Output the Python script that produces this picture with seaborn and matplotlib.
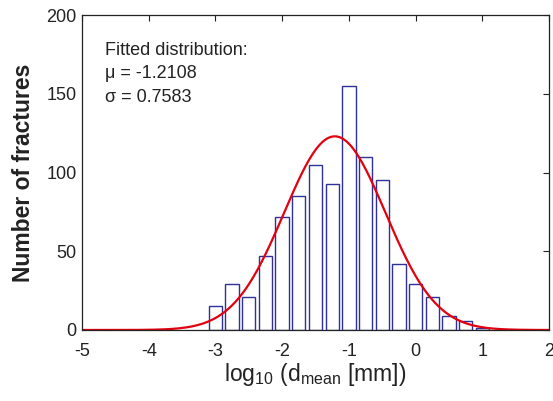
import numpy as np
import pandas as pd
import matplotlib
matplotlib.use("Agg")
import matplotlib.pyplot as plt
import seaborn as sns

# Data
bin_centers = [-3.0, -2.75, -2.5, -2.25, -2.0, -1.75, -1.5, -1.25, -1.0,
               -0.75, -0.5, -0.25, 0.0, 0.25, 0.5, 0.75, 1.0]
counts = [15, 29, 21, 47, 72, 85, 105, 93, 155, 110, 95, 42, 29, 21, 9, 6, 1]
mu = -1.2108
sigma = 0.7583
bin_width = 0.25
x_ticks = [-5, -4, -3, -2, -1, 0, 1, 2]
y_ticks = [0, 50, 100, 150, 200]

sns.set_style("white")
plt.rcParams['font.family'] = ['Liberation Sans', 'DejaVu Sans']
plt.rcParams['mathtext.fontset'] = 'custom'
plt.rcParams['mathtext.rm'] = 'Liberation Sans'
plt.rcParams['mathtext.it'] = 'Liberation Sans'

fig = plt.figure(figsize=(5.53, 4.01), dpi=100)
ax = fig.add_axes([82/553, 1 - 330/401, (549-82)/553, (330-15)/401])

df = pd.DataFrame({"x": bin_centers, "n": counts})
sns.histplot(data=df, x="x", weights="n", binwidth=bin_width,
             binrange=(bin_centers[0] - bin_width/2, bin_centers[-1] + bin_width/2),
             shrink=0.8, fill=False, color="#30309a", linewidth=1.0, ax=ax)

# fitted normal curve scaled to counts
N = sum(counts)
xs = np.linspace(-5, 2, 400)
ys = N * bin_width / (sigma * np.sqrt(2*np.pi)) * np.exp(-(xs - mu)**2 / (2*sigma**2))
sns.lineplot(x=xs, y=ys, color="#e3000f", linewidth=1.6, ax=ax)

ax.set_xlim(-5, 2)
ax.set_ylim(0, 200)
ax.set_xticks(x_ticks)
ax.set_xticklabels([str(t) for t in x_ticks])
ax.set_yticks(y_ticks)
ax.set_yticklabels([str(t) for t in y_ticks])
ax.tick_params(direction="in", length=4, width=0.8, top=True, right=True,
               labelsize=13, colors="#222222", pad=4)
ax.tick_params(axis='x', pad=9)
for s in ax.spines.values():
    s.set_visible(True)
    s.set_color("#222222")
    s.set_linewidth(0.9)

ax.set_xlabel(r"log$_{10}$ (d$_{\mathrm{mean}}$ [mm])", fontsize=16.5, color="#222222", labelpad=1)
ax.set_ylabel("Number of fractures", fontsize=16.5, fontweight="bold", color="#222222", labelpad=8)

ax.text(0.05, 0.915, "Fitted distribution:\nμ = -1.2108\nσ = 0.7583", transform=ax.transAxes,
        fontsize=13, va="top", ha="left", linespacing=1.5, color="#222222")

fig.savefig("out.png", dpi=100)
